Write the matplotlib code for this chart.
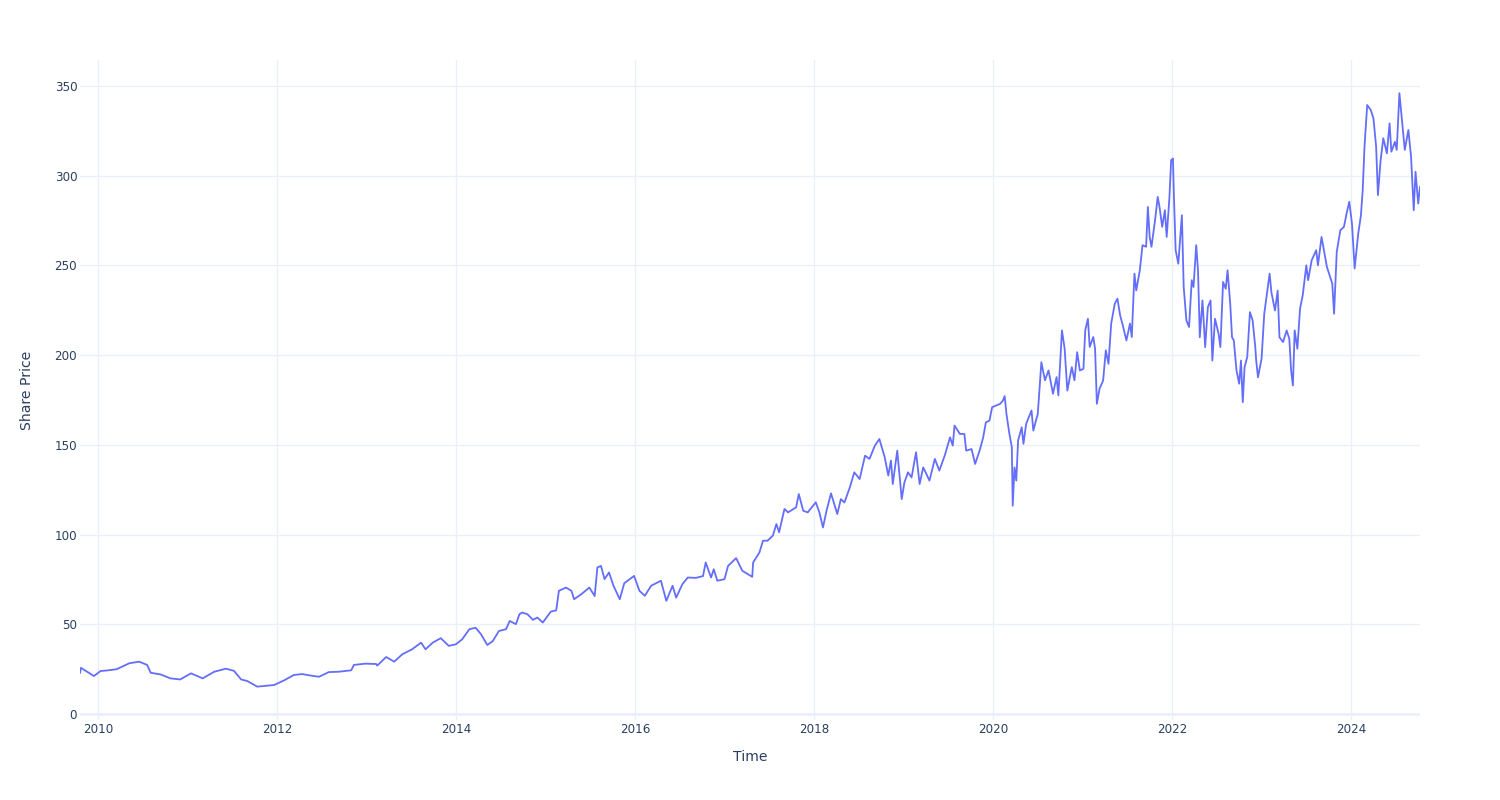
import numpy as np
import matplotlib.pyplot as plt

# share price, time as decimal years
years = [
    2009.80, 2009.81, 2009.955, 2010.03, 2010.10, 2010.21, 2010.35, 2010.46, 2010.55, 2010.59,
    2010.70, 2010.81, 2010.92, 2011.04, 2011.17, 2011.30, 2011.43, 2011.52, 2011.60, 2011.67,
    2011.78, 2011.97, 2012.08, 2012.19, 2012.28,
    2012.36, 2012.47, 2012.58, 2012.69, 2012.83, 2012.86, 2012.99, 2013.11, 2013.12, 2013.22,
    2013.31, 2013.40, 2013.51, 2013.61, 2013.66, 2013.74, 2013.83, 2013.92, 2014.00, 2014.07,
    2014.15, 2014.22, 2014.28, 2014.35, 2014.41, 2014.48, 2014.56, 2014.60, 2014.67, 2014.71,
    2014.74, 2014.80, 2014.86, 2014.91, 2014.97, 2015.06, 2015.12, 2015.15, 2015.23, 2015.29,
    2015.32, 2015.40, 2015.49, 2015.55, 2015.58, 2015.62, 2015.66, 2015.71, 2015.76, 2015.83,
    2015.88, 2015.99, 2016.05, 2016.11, 2016.18, 2016.29, 2016.35, 2016.42, 2016.46, 2016.53,
    2016.59, 2016.68, 2016.76, 2016.79, 2016.83,
    2016.85, 2016.88, 2016.92, 2017.00, 2017.04, 2017.13, 2017.20, 2017.26, 2017.31, 2017.32,
    2017.39, 2017.43, 2017.48, 2017.54, 2017.58, 2017.61, 2017.67, 2017.71, 2017.80, 2017.83,
    2017.88, 2017.93, 2018.02, 2018.06, 2018.10, 2018.14, 2018.19, 2018.26, 2018.30, 2018.34,
    2018.40, 2018.45, 2018.51, 2018.57, 2018.62, 2018.68, 2018.73, 2018.79, 2018.83, 2018.86,
    2018.88, 2018.93, 2018.98, 2019.01, 2019.05, 2019.09, 2019.14, 2019.18, 2019.22, 2019.29,
    2019.35, 2019.40, 2019.46, 2019.52, 2019.55, 2019.57, 2019.63, 2019.68, 2019.70, 2019.76,
    2019.80, 2019.85, 2019.89, 2019.92, 2019.96, 2019.99,
    2020.08, 2020.11, 2020.13, 2020.15, 2020.18, 2020.21, 2020.22, 2020.24, 2020.26, 2020.28,
    2020.32, 2020.34, 2020.37, 2020.43, 2020.45, 2020.50, 2020.54, 2020.58, 2020.62, 2020.67,
    2020.71, 2020.73, 2020.77, 2020.80, 2020.83, 2020.88, 2020.91, 2020.94, 2020.97, 2021.01,
    2021.03, 2021.06, 2021.08, 2021.12, 2021.14, 2021.16, 2021.19, 2021.23, 2021.26, 2021.29,
    2021.32, 2021.36, 2021.39, 2021.42, 2021.45, 2021.49, 2021.53, 2021.55, 2021.58, 2021.60,
    2021.64, 2021.67, 2021.71, 2021.73, 2021.75, 2021.77, 2021.81, 2021.84, 2021.86, 2021.89,
    2021.92, 2021.94, 2021.97, 2021.99, 2022.01, 2022.02, 2022.04, 2022.07, 2022.11, 2022.13,
    2022.16, 2022.19, 2022.22, 2022.24, 2022.27, 2022.29, 2022.31, 2022.34, 2022.37, 2022.40,
    2022.43, 2022.45, 2022.48, 2022.52, 2022.54, 2022.57, 2022.60, 2022.62, 2022.65, 2022.67,
    2022.69, 2022.72, 2022.75, 2022.77, 2022.79, 2022.81, 2022.84, 2022.87, 2022.90, 2022.93,
    2022.94, 2022.96, 2023.00, 2023.03, 2023.06, 2023.09, 2023.11, 2023.15, 2023.18, 2023.20,
    2023.24, 2023.28, 2023.31, 2023.33, 2023.35, 2023.37, 2023.40, 2023.43, 2023.46, 2023.50,
    2023.52, 2023.56, 2023.61, 2023.63, 2023.67, 2023.71, 2023.73, 2023.79, 2023.81, 2023.84,
    2023.88, 2023.92, 2023.95, 2023.98, 2024.01, 2024.04, 2024.08, 2024.11, 2024.13, 2024.15,
    2024.18, 2024.22, 2024.25, 2024.28, 2024.30, 2024.33, 2024.36, 2024.40, 2024.43, 2024.45,
    2024.49, 2024.51, 2024.54, 2024.57, 2024.60, 2024.64, 2024.67, 2024.70, 2024.72, 2024.75,
    2024.77,
]

prices = [
    23.0, 25.8, 21.2, 24.0, 24.3, 25.0, 28.3, 29.2, 27.4, 23.0,
    22.1, 19.9, 19.3, 22.7, 19.9, 23.6, 25.3, 24.1, 19.3, 18.4,
    15.3, 16.2, 18.8, 21.8, 22.3,
    21.6, 20.8, 23.4, 23.6, 24.4, 27.4, 28.1, 27.9, 27.0, 31.8,
    29.2, 33.3, 36.1, 39.8, 36.1, 39.8, 42.3, 38.0, 38.9, 41.7,
    47.3, 48.1, 44.5, 38.5, 40.6, 46.3, 47.3, 51.9, 50.1, 55.7,
    56.6, 55.6, 52.5, 53.8, 51.0, 57.1, 57.8, 68.7, 70.5, 68.7,
    64.0, 66.8, 70.5, 65.8, 81.7, 82.6, 75.2, 78.9, 71.5, 64.0,
    72.9, 77.0, 68.7, 65.9, 71.5, 74.3, 63.1, 71.5, 64.9, 72.4,
    76.1, 75.9, 76.9, 84.5, 78.9,
    76.1, 80.7, 74.3, 75.2, 82.6, 86.9, 79.8, 78.0, 76.5, 84.5,
    90.0, 96.6, 96.6, 99.4, 105.9, 101.3, 114.3, 112.4, 115.2, 122.6,
    113.3, 112.4, 118.0, 112.4, 104.0, 113.3, 123.0, 111.5, 119.8, 117.9,
    126.3, 134.7, 131.0, 144.0, 142.2, 149.6, 153.3, 143.1, 132.9, 141.3,
    128.2, 146.8, 119.8, 129.1, 134.7, 131.9, 145.9, 128.2, 137.5, 130.1,
    142.2, 135.7, 144.0, 154.2, 149.6, 160.8, 156.1, 156.1, 146.8, 147.7,
    139.4, 146.8, 154.2, 162.6, 163.5, 171.0,
    172.9, 174.7, 177.2, 167.3, 157.1, 148.7, 116.1, 137.5, 130.1, 152.4,
    159.8, 150.6, 161.7, 169.2, 158.0, 167.3, 196.1, 186.0, 191.5, 178.5,
    187.8, 177.6, 213.8, 203.6, 180.3, 193.3, 186.0, 201.7, 191.5, 192.4,
    213.8, 220.3, 204.6, 210.1, 203.6, 172.9, 181.3, 185.9, 202.7, 195.2,
    217.6, 228.7, 231.5, 222.2, 216.6, 208.2, 217.6, 210.1, 245.4, 236.1,
    247.3, 261.3, 260.4, 282.6, 265.9, 260.4, 275.2, 288.2, 282.6, 271.5,
    280.8, 265.9, 287.3, 308.7, 309.6, 290.1, 258.5, 251.0, 278.0, 238.0,
    219.4, 215.7, 241.8, 238.0, 261.3, 247.3, 210.0, 230.5, 204.5, 226.8,
    230.5, 197.0, 220.3, 211.9, 204.5, 240.8, 237.0, 247.3, 228.7, 210.0,
    208.2, 191.5, 184.1, 197.0, 173.8, 193.3, 199.0, 224.0, 219.4, 204.5,
    197.0, 187.7, 198.0, 223.1, 234.3, 245.4, 235.0, 224.9, 236.0, 210.0,
    207.3, 213.8, 209.1, 191.5, 183.1, 213.8, 203.6, 226.0, 233.4, 250.1,
    241.8, 252.9, 258.5, 250.1, 265.9, 254.8, 249.2, 239.9, 223.1, 257.6,
    269.6, 271.5, 279.0, 285.5, 273.3, 248.3, 267.8, 277.9, 292.0, 316.2,
    339.4, 336.6, 332.0, 316.2, 289.2, 308.7, 320.9, 312.5, 329.2, 313.4,
    318.9, 314.4, 346.0, 330.1, 314.4, 325.5, 310.6, 280.8, 302.2, 284.5,
    293.8,
]

x_ticks = [2010, 2012, 2014, 2016, 2018, 2020, 2022, 2024]
y_ticks = [0, 50, 100, 150, 200, 250, 300, 350]

text_color = "#2a3f5f"
grid_color = "#EBF0F8"

fig = plt.figure(figsize=(15, 8), dpi=100)
ax = fig.add_axes([80 / 1500, 80 / 800, 1340 / 1500, 660 / 800])

ax.plot(years, prices, color="#636EFA", linewidth=1.3, zorder=3)

ax.set_xlim(min(years), max(years))
ax.set_ylim(-3.3, 364.5)
ax.set_xticks(x_ticks)
ax.set_xticklabels([str(t) for t in x_ticks])
ax.set_yticks(y_ticks)

for s in ax.spines.values():
    s.set_visible(False)
ax.grid(True, color=grid_color, linewidth=1.0, zorder=0)
ax.axhline(0, color=grid_color, linewidth=2.0, zorder=1)
ax.tick_params(length=0, labelsize=8.6, colors=text_color)
ax.tick_params(axis="x", pad=2.5)
ax.tick_params(axis="y", pad=2)

ax.set_xlabel("Time", fontsize=10.1, color=text_color, labelpad=10)
ax.set_ylabel("Share Price", fontsize=10.1, color=text_color, labelpad=14.5)

plt.savefig("out.png", dpi=100)
